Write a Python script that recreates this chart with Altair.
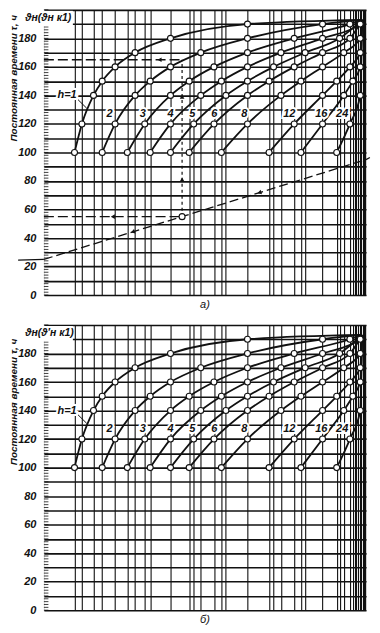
import altair as alt
import pandas as pd

# ---- data ----
theta_rows = [100, 120, 140, 150, 160, 170, 180, 190]
h_names = ["1", "2", "3", "4", "5", "6", "8", "12", "16", "24"]

# horizontal positions (fraction of plot width) of the circles on each curve
u_h1 = [0.095, 0.118, 0.154, 0.181, 0.221, 0.283, 0.393, 0.632]
u_h2 = [0.181, 0.221, 0.283, 0.330, 0.393, 0.487, 0.632, 0.865]
u_h3 = [0.259, 0.313, 0.393, 0.451, 0.528, 0.632, 0.777, 0.950]
u_h4 = [0.330, 0.393, 0.487, 0.551, 0.632, 0.736, 0.865, 0.982]
u_h5 = [0.393, 0.465, 0.565, 0.632, 0.713, 0.811, 0.918]
u_h6 = [0.451, 0.528, 0.632, 0.699, 0.777, 0.865, 0.950]
u_h8 = [0.551, 0.632, 0.736, 0.798, 0.865, 0.931, 0.982]
u_h12 = [0.699, 0.777, 0.865, 0.909, 0.950, 0.982]
u_h16 = [0.798, 0.865, 0.931, 0.959, 0.982]
u_h24 = [0.909, 0.950, 0.982]
curve_u = [u_h1, u_h2, u_h3, u_h4, u_h5, u_h6, u_h8, u_h12, u_h16, u_h24]
end_u = 0.988
end_theta = 193

# vertical grid lines
grid_u = [0.095, 0.118, 0.154, 0.181, 0.221, 0.259, 0.283, 0.313, 0.330,
          0.393, 0.451, 0.465, 0.487, 0.528, 0.551, 0.565, 0.632, 0.699,
          0.713, 0.736, 0.777, 0.798, 0.811, 0.865, 0.909, 0.918, 0.931,
          0.950, 0.959, 0.965, 0.970, 0.975, 0.982, 0.986, 0.990, 0.994, 0.997]

# curve labels
label_text = ["2", "3", "4", "5", "6", "8", "12", "16", "24"]
label_u = [0.204, 0.307, 0.393, 0.461, 0.529, 0.622, 0.762, 0.861, 0.926]
label_theta = 127

# worked example (panel a)
example_line_u = [0.0, 1.0]
example_line_theta = [25, 95]
example_point = (0.429, 55)
example_read_theta = 165

FONT = "Liberation Sans"
INK = "#111111"
PANEL_H = 286

rows = []
line_rows = []
for name, us in zip(h_names, curve_u):
    for i, u in enumerate(us):
        rows.append({"h": name, "u": u, "theta": theta_rows[i]})
        line_rows.append({"h": name, "u": u, "theta": theta_rows[i]})
    line_rows.append({"h": name, "u": end_u, "theta": end_theta})
pts_df = pd.DataFrame(rows)
lines_df = pd.DataFrame(line_rows)

xs = alt.Scale(domain=[0, 1], nice=False, zero=False)
ys = alt.Scale(domain=[0, 200], nice=False, zero=False)
xaxis = alt.Axis(values=grid_u, labels=False, ticks=False, domain=False, grid=True,
                 gridColor=INK, gridWidth=1.1, title=None)
yaxis = alt.Axis(values=list(range(0, 201, 10)),
                 labelExpr="datum.value % 20 == 0 && datum.value < 200 ? datum.value : ''",
                 ticks=False, domain=False, grid=True, gridColor=INK, gridWidth=1.6,
                 title=None, labelFont=FONT, labelFontSize=11, labelFontWeight="bold",
                 labelFontStyle="italic", labelColor=INK, labelPadding=8)


def X(f="u"):
    return alt.X(f, type="quantitative", scale=xs, axis=xaxis)


def Y(f="theta"):
    return alt.Y(f, type="quantitative", scale=ys, axis=yaxis)


def panel(header, sub, example, title_theta):
    layers = []
    minor = pd.DataFrame({"u": [0.0] * 101, "u2": [0.014] * 101,
                          "theta": list(range(0, 201, 2))})
    layers.append(alt.Chart(minor).mark_rule(color=INK, strokeWidth=0.8).encode(
        x=X(), x2="u2", y=Y()))

    if example:
        seg = pd.DataFrame({"u": [example_line_u[0]], "u2": [example_line_u[1]],
                            "theta": [example_line_theta[0]], "theta2": [example_line_theta[1]]})
        layers.append(alt.Chart(seg).mark_rule(color=INK, strokeWidth=1.3, strokeDash=[9, 4]).encode(
            x=X(), x2="u2", y=Y(), y2="theta2"))
        stubs = pd.DataFrame({"u": [-0.08, 1.0], "u2": [0.0, 1.012],
                              "theta": [24.5, 95], "theta2": [25, 96.5]})
        layers.append(alt.Chart(stubs).mark_rule(color=INK, strokeWidth=1.3).encode(
            x=X(), x2="u2", y=Y(), y2="theta2"))
        hz = pd.DataFrame({"u": [0.0, 0.0], "u2": [example_point[0]] * 2,
                           "theta": [example_point[1], example_read_theta],
                           "theta2": [example_point[1], example_read_theta]})
        layers.append(alt.Chart(hz).mark_rule(color=INK, strokeWidth=1.4, strokeDash=[10, 4]).encode(
            x=X(), x2="u2", y=Y(), y2="theta2"))
        vt = pd.DataFrame({"u": [example_point[0]], "theta": [example_point[1]],
                           "theta2": [example_read_theta]})
        layers.append(alt.Chart(vt).mark_rule(color=INK, strokeWidth=1.2, strokeDash=[3, 3]).encode(
            x=X(), y=Y(), y2="theta2"))
        arrows = pd.DataFrame({"u": [0.276, 0.669, 0.214, 0.359, 0.429, 0.429],
                               "theta": [44.3, 71.8, 55, 165, 81, 139],
                               "shape": ["triangle-left", "triangle-left", "triangle-left",
                                         "triangle-left", "triangle-up", "triangle-up"],
                               "ang": [342, 342, 0, 0, 0, 0]})
        layers.append(alt.Chart(arrows).mark_point(filled=True, color=INK, size=22, opacity=1).encode(
            x=X(), y=Y(), shape=alt.Shape("shape:N", scale=None),
            angle=alt.Angle("ang:Q", scale=None)))
        ep = pd.DataFrame({"u": [example_point[0]], "theta": [example_point[1]]})
        layers.append(alt.Chart(ep).mark_point(shape="circle", filled=True, fill="white", stroke=INK,
                                               strokeWidth=1.1, size=36, opacity=1).encode(x=X(), y=Y()))

    layers.append(alt.Chart(lines_df).mark_line(color=INK, strokeWidth=1.8, interpolate="monotone").encode(
        x=X(), y=Y(), detail="h:N", order="u:Q"))
    layers.append(alt.Chart(pts_df).mark_point(shape="circle", filled=True, fill="white", stroke=INK,
                                               strokeWidth=1.1, size=36, opacity=1).encode(x=X(), y=Y()))

    # curve labels
    lab = pd.DataFrame({"u": label_u, "theta": [label_theta] * len(label_u), "t": label_text})
    h1 = pd.DataFrame({"u": [0.072], "theta": [140], "t": ["h=1"]})
    for d in (lab, h1):
        layers.append(alt.Chart(d).mark_text(font=FONT, fontSize=11, fontWeight="bold", fontStyle="italic",
                                             stroke="white", strokeWidth=4, color="white").encode(
            x=X(), y=Y(), text="t:N"))
        layers.append(alt.Chart(d).mark_text(font=FONT, fontSize=11, fontWeight="bold", fontStyle="italic",
                                             color=INK).encode(x=X(), y=Y(), text="t:N"))
    leader = pd.DataFrame({"u": [0.106], "u2": [0.133], "theta": [137], "theta2": [131]})
    layers.append(alt.Chart(leader).mark_rule(color=INK, strokeWidth=1).encode(
        x=X(), x2="u2", y=Y(), y2="theta2"))

    # header box + text
    box = pd.DataFrame({"u": [-0.004], "u2": [0.09], "theta": [188.5], "theta2": [199.3]})
    layers.append(alt.Chart(box).mark_rect(color="white").encode(x=X(), x2="u2", y=Y(), y2="theta2"))
    hd = pd.DataFrame({"u": [-0.058], "theta": [194.5], "t": [header]})
    layers.append(alt.Chart(hd).mark_text(font=FONT, fontSize=10.5, fontWeight="bold", fontStyle="italic",
                                          align="left", color=INK).encode(x=X(), y=Y(), text="t:N"))

    # axis title and panel letter
    tt = pd.DataFrame({"u": [-0.093], "theta": [title_theta], "t": ["Постоянная времени τ, ч"]})
    layers.append(alt.Chart(tt).mark_text(font=FONT, fontSize=10, fontWeight="bold", fontStyle="italic",
                                          angle=270, color=INK).encode(x=X(), y=Y(), text="t:N"))
    sl = pd.DataFrame({"u": [0.5], "theta": [-7], "t": [sub]})
    layers.append(alt.Chart(sl).mark_text(font=FONT, fontSize=11, fontStyle="italic",
                                          color=INK).encode(x=X(), y=Y(), text="t:N"))

    return alt.layer(*layers).properties(width=323, height=PANEL_H)


top = panel("ϑн(ϑн к1)", "а)", True, 152)
bottom = panel("ϑн(ϑ′н к1)", "б)", False, 146)

chart = alt.vconcat(top, bottom, spacing=13).properties(padding=0).configure_view(
    stroke=INK, strokeWidth=1.6, fill="white"
).configure(background="white")

chart.save("out.html", embed_options={"renderer": "svg", "actions": False})
